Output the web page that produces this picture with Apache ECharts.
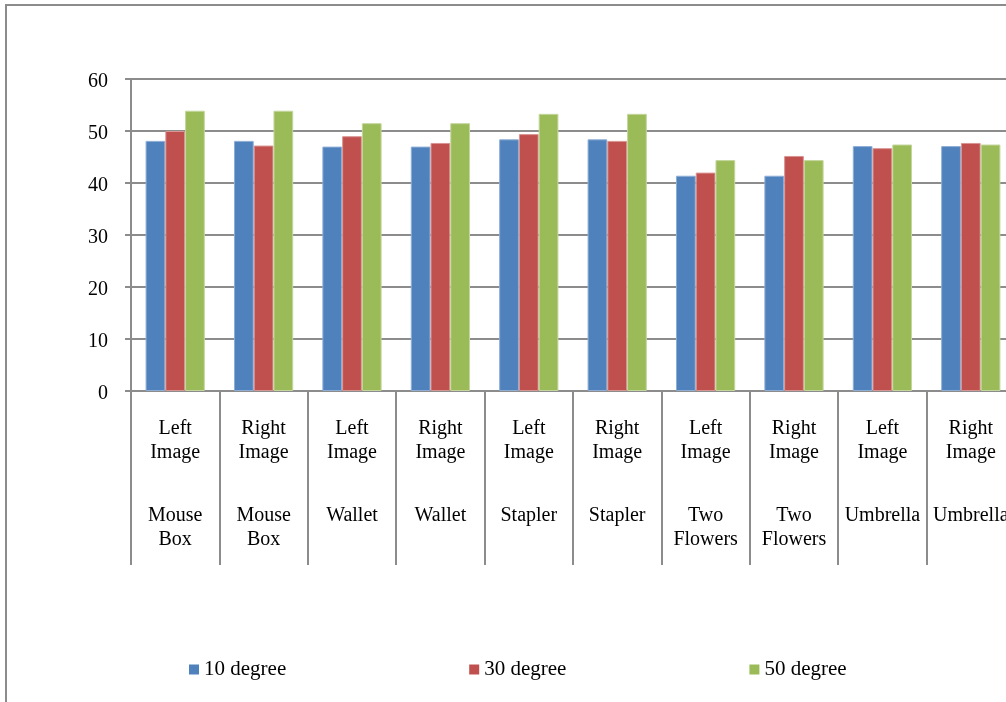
<!DOCTYPE html>
<html>
<head>
<meta charset="utf-8">
<script src="https://cdn.jsdelivr.net/npm/echarts@6/dist/echarts.min.js"></script>
<style>
  html, body { margin: 0; padding: 0; background: #ffffff; }
  #chart { width: 1006px; height: 702px; }
</style>
</head>
<body>
<div id="chart"></div>
<script>
// Viewing position and object for each group of bars
const positions = ['Left', 'Right', 'Left', 'Right', 'Left', 'Right', 'Left', 'Right', 'Left', 'Right'];
const objects = ['Mouse\nBox', 'Mouse\nBox', 'Wallet', 'Wallet', 'Stapler', 'Stapler',
                 'Two\nFlowers', 'Two\nFlowers', 'Umbrella', 'Umbrella'];

// Scores per viewing angle
const seriesNames = ['10 degree', '30 degree', '50 degree'];
const deg10 = [48.1, 48.1, 47.0, 47.0, 48.4, 48.4, 41.4, 41.4, 47.1, 47.1];
const deg30 = [50.0, 47.2, 49.0, 47.7, 49.4, 48.1, 42.0, 45.2, 46.7, 47.7];
const deg50 = [53.9, 53.9, 51.5, 51.5, 53.3, 53.3, 44.4, 44.4, 47.4, 47.4];

const yTicks = { min: 0, max: 60, step: 10 };

const colors = ['#4F81BD', '#C0504D', '#9BBB59'];
const borders = ['#8EAED6', '#D99593', '#C3D69B'];
const gray = '#8c8c8c';
const font = '"Liberation Serif", "Times New Roman", serif';

const categories = positions.map((p, i) => p + '|' + objects[i]);

const chart = echarts.init(document.getElementById('chart'));

const makeSeries = (name, data, i) => ({
  name: name,
  type: 'bar',
  data: data,
  barGap: '0%',
  barCategoryGap: '33%',
  itemStyle: { color: colors[i], borderColor: borders[i], borderWidth: 1 },
  emphasis: { disabled: true }
});

chart.setOption({
  animation: false,
  textStyle: { fontFamily: font, color: '#000' },
  graphic: [{
    type: 'rect',
    shape: { x: 6, y: 5, width: 1020, height: 720 },
    style: { fill: 'none', stroke: gray, lineWidth: 2 },
    silent: true,
    z: -10
  }],
  grid: { left: 131, top: 79, width: 884, height: 312, outerBoundsMode: 'none', containLabel: false },
  legend: {
    left: 189,
    top: 659,
    padding: 0,
    itemWidth: 10,
    itemHeight: 10,
    itemGap: 183,
    icon: 'rect',
    itemStyle: { borderWidth: 0 },
    textStyle: { fontFamily: font, fontSize: 21, color: '#000' },
    data: seriesNames
  },
  xAxis: {
    type: 'category',
    data: categories,
    axisLine: { show: true, lineStyle: { color: gray, width: 2 } },
    axisTick: { show: true, length: 174, lineStyle: { color: gray, width: 2 } },
    axisLabel: {
      interval: 0,
      margin: 26,
      fontFamily: font,
      fontSize: 20,
      color: '#000',
      lineHeight: 24,
      align: 'center',
      formatter: (v) => {
        const [pos, obj] = v.split('|');
        return pos + '\nImage\n{g| }\n' + obj;
      },
      rich: { g: { lineHeight: 39, fontSize: 4 } }
    }
  },
  yAxis: {
    type: 'value',
    min: yTicks.min,
    max: yTicks.max,
    interval: yTicks.step,
    axisLine: { show: true, lineStyle: { color: gray, width: 2 } },
    axisTick: { show: true, length: 6, lineStyle: { color: gray, width: 2 } },
    splitLine: { show: true, lineStyle: { color: gray, width: 2 } },
    axisLabel: {
      margin: 23,
      color: '#000',
      formatter: (v) => '{n|' + v + '}',
      rich: { n: { fontFamily: font, fontSize: 20, color: '#000', padding: [6, 0, 0, 0] } }
    }
  },
  series: [
    makeSeries(seriesNames[0], deg10, 0),
    makeSeries(seriesNames[1], deg30, 1),
    makeSeries(seriesNames[2], deg50, 2)
  ]
});
</script>
</body>
</html>
